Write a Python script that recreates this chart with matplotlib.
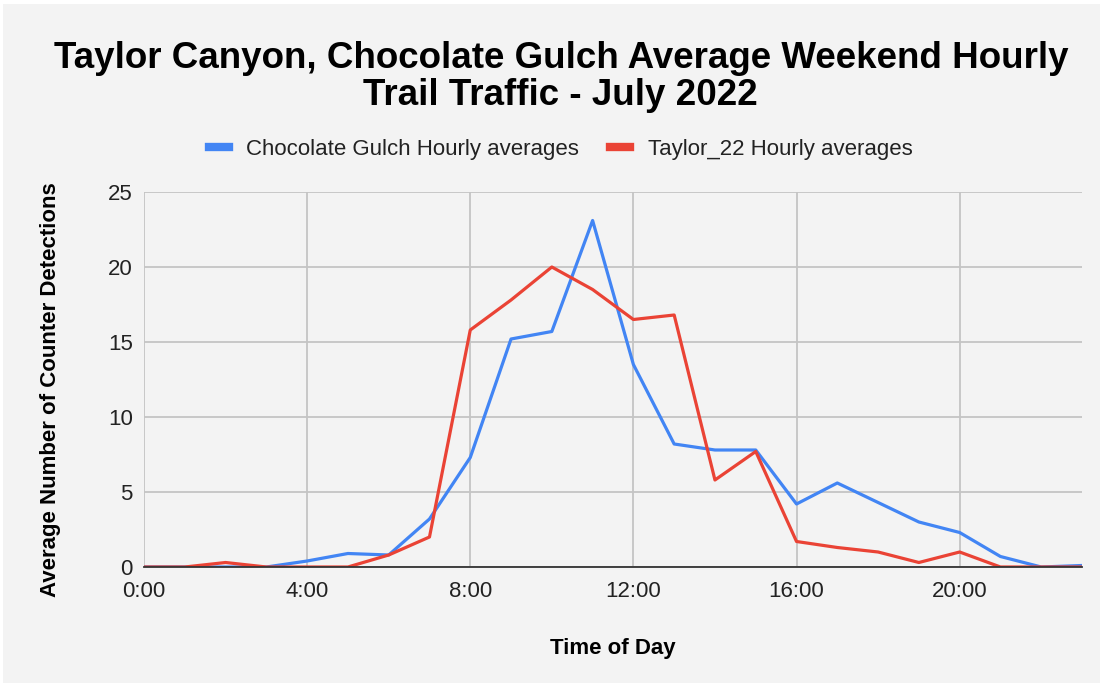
import matplotlib.pyplot as plt
from matplotlib.lines import Line2D
from matplotlib.patches import Rectangle

plt.rcParams['font.family'] = ['Liberation Sans', 'DejaVu Sans']

# data
hours = list(range(24))
choc_gulch = [0, 0, 0, 0, 0.4, 0.9, 0.8, 3.2, 7.3, 15.2, 15.7, 23.1,
              13.5, 8.2, 7.8, 7.8, 4.2, 5.6, 4.3, 3.0, 2.3, 0.7, 0, 0.1]
taylor_22 = [0, 0, 0.3, 0, 0, 0, 0.8, 2.0, 15.8, 17.8, 20.0, 18.5,
             16.5, 16.8, 5.8, 7.7, 1.7, 1.3, 1.0, 0.3, 1.0, 0, 0, 0]
x_ticks = [0, 4, 8, 12, 16, 20]
x_labels = ['0:00', '4:00', '8:00', '12:00', '16:00', '20:00']
y_ticks = [0, 5, 10, 15, 20, 25]

blue = '#4285F4'
red = '#EA4335'
bg = '#f3f3f3'

fig = plt.figure(figsize=(11.04, 6.87), dpi=100, facecolor='white')
fig.patches.append(Rectangle((3 / 1104, 4 / 687), 1 - 7 / 1104, 1 - 8 / 687,
                             transform=fig.transFigure, facecolor=bg,
                             edgecolor='none', zorder=-10))
ax = fig.add_axes([144 / 1104, 1 - 567 / 687, (1082 - 144) / 1104, (567 - 192) / 687])
ax.set_facecolor(bg)

ax.plot(hours, choc_gulch, color=blue, lw=2.3, label='Chocolate Gulch Hourly averages', zorder=3)
ax.plot(hours, taylor_22, color=red, lw=2.3, label='Taylor_22 Hourly averages', zorder=4)

ax.set_xlim(0, 23)
ax.set_ylim(0, 25)
ax.set_xticks(x_ticks)
ax.set_xticklabels(x_labels)
ax.set_yticks(y_ticks)
ax.tick_params(axis='both', length=0, labelsize=16, colors='#222222')
ax.tick_params(axis='y', pad=8)
ax.tick_params(axis='x', pad=10)
ax.grid(True, color='#c4c4c4', lw=1.3, zorder=0)
ax.set_axisbelow(True)
for s in ['top', 'right', 'left']:
    ax.spines[s].set_visible(False)
ax.spines['bottom'].set_color('#333333')
ax.spines['bottom'].set_linewidth(1.3)
ax.spines['bottom'].set_zorder(5)

ax.set_xlabel('Time of Day', fontsize=16, fontweight='bold', labelpad=26)
ax.set_ylabel('Average Number of Counter Detections', fontsize=16, fontweight='bold', labelpad=31)
ax.yaxis.set_label_coords(-0.088, (567 - 390) / 375)

fig.text(0.508, 1 - 77 / 687, 'Taylor Canyon, Chocolate Gulch Average Weekend Hourly\nTrail Traffic - July 2022',
         ha='center', va='center', fontsize=26.5, fontweight='bold', linespacing=1.09)

handles = [Line2D([], [], color=blue, lw=6), Line2D([], [], color=red, lw=6)]
fig.legend(handles, ['Chocolate Gulch Hourly averages', 'Taylor_22 Hourly averages'],
           loc='center', bbox_to_anchor=(0.508, 1 - 149 / 687), ncol=2, frameon=False,
           fontsize=16, handlelength=0.9, handletextpad=0.8, columnspacing=1.4,
           labelcolor='#222222')

fig.savefig('out.png', dpi=100, facecolor='white')
